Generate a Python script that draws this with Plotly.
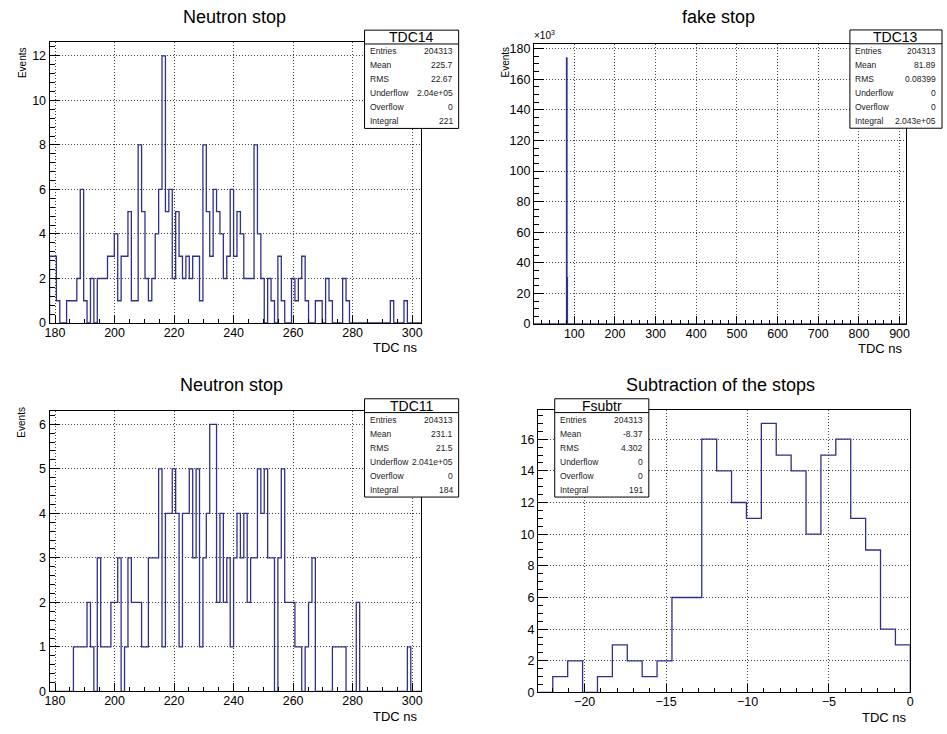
import plotly.graph_objects as go

W, H = 947, 734
FONT = "Liberation Sans, Arial, Helvetica, sans-serif"
LINE_COLOR = "#30308a"

# ---- TDC histograms: 800 bins of 1.145 ns, lower edge 0.69 ns ----
TDC_BIN_WIDTH = 1.145
TDC_FIRST_EDGE = 0.69
TDC_VIEW_FIRST_BIN = 155      # first bin shown in the zoomed neutron panels
TDC_VIEW_LAST_BIN = 263       # last bin shown (inclusive)

# TDC14 counts, bins 155..263
tdc14_counts = [
    3, 3, 1, 0, 0, 1, 1, 1, 2, 6,
    1, 0, 2, 0, 2, 2, 2, 3, 3, 4,
    1, 3, 3, 5, 1, 1, 8, 5, 2, 1,
    2, 4, 6, 12, 5, 6, 2, 5, 3, 2,
    3, 2, 3, 3, 1, 8, 5, 3, 6, 5,
    4, 2, 3, 6, 3, 5, 4, 2, 2, 2,
    8, 4, 2, 0, 2, 1, 0, 3, 1, 0,
    0, 2, 1, 2, 3, 1, 0, 0, 1, 1,
    0, 2, 1, 0, 0, 0, 2, 1, 0, 0,
    0, 0, 0, 0, 0, 0, 0, 0, 0, 0,
    1, 0, 0, 0, 1, 0, 0, 0, 0,
]

# TDC11 counts, bins 155..263
tdc11_counts = [
    0, 0, 0, 0, 0, 0, 0, 1, 1, 1,
    1, 2, 1, 0, 3, 1, 1, 1, 2, 2,
    3, 0, 1, 3, 2, 2, 2, 1, 1, 3,
    3, 3, 5, 1, 4, 4, 5, 4, 1, 4,
    4, 5, 3, 5, 1, 3, 4, 6, 6, 2,
    4, 2, 3, 1, 3, 4, 3, 4, 2, 3,
    3, 5, 4, 5, 3, 3, 0, 3, 5, 2,
    2, 2, 1, 1, 0, 1, 2, 3, 0, 0,
    0, 0, 0, 1, 1, 1, 1, 0, 0, 0,
    2, 0, 0, 0, 0, 0, 0, 0, 0, 0,
    0, 0, 0, 0, 0, 1, 0, 0, 0,
]

# TDC13 ("fake stop"): only two populated bins over the full 800-bin range
TDC_NBINS = 800
fake_bins = [70, 71]
fake_counts = [174000, 30313]

# Fsubtr: 25 bins of 0.915 ns starting at -22.875 ns
FSUB_LOW = -22.875
FSUB_WIDTH = 0.915
fsub_counts = [0, 1, 2, 0, 1, 3, 2, 1, 2, 6, 6, 16, 14, 12, 11, 17, 15, 14, 10,
               15, 16, 11, 9, 4, 3]

# ---- statistics boxes ----
stat_labels = ["Entries", "Mean", "RMS", "Underflow", "Overflow", "Integral"]
tdc14_stats = ["204313", "225.7", "22.67", "2.04e+05", "0", "221"]
tdc13_stats = ["204313", "81.89", "0.08399", "0", "0", "2.043e+05"]
tdc11_stats = ["204313", "231.1", "21.5", "2.041e+05", "0", "184"]
fsub_stats = ["204313", "-8.37", "4.302", "0", "0", "191"]

titles = ["Neutron stop", "fake stop", "Neutron stop", "Subtraction of the stops"]


def px(x):
    return x / W


def py(y):
    return 1 - y / H


def step_xy(edges, counts):
    xs = [edges[0]] + list(edges[:-1]) + [edges[-1], edges[-1]]
    ys = [0] + list(counts) + [counts[-1], 0]
    return xs, ys


def tdc_edges(first_bin, n):
    return [TDC_FIRST_EDGE + TDC_BIN_WIDTH * (first_bin + i) for i in range(n + 1)]


fig = go.Figure()

# panel frames in pixels: (x0, x1, ytop, ybottom)
frames = {
    1: (45, 420, 41, 325),
    2: (534, 910, 43, 326),
    3: (45, 420, 414, 698),
    4: (538, 914, 413, 699),
}


def hist_trace(xs, ys, n):
    suffix = "" if n == 1 else str(n)
    return go.Scatter(x=xs, y=ys, mode="lines",
                      line=dict(color=LINE_COLOR, width=1.3, shape="hv"),
                      xaxis="x" + suffix, yaxis="y" + suffix,
                      showlegend=False, hoverinfo="skip")


# --- data traces ---
e14 = tdc_edges(TDC_VIEW_FIRST_BIN, len(tdc14_counts))
fig.add_trace(hist_trace(*step_xy(e14, tdc14_counts), 1))

fake_full = [0] * TDC_NBINS
for b, c in zip(fake_bins, fake_counts):
    fake_full[b] = c
e13 = tdc_edges(0, TDC_NBINS)
fig.add_trace(hist_trace(*step_xy(e13, [c / 1000 for c in fake_full]), 2))

e11 = tdc_edges(TDC_VIEW_FIRST_BIN, len(tdc11_counts))
fig.add_trace(hist_trace(*step_xy(e11, tdc11_counts), 3))

ef = [FSUB_LOW + FSUB_WIDTH * i for i in range(len(fsub_counts) + 1)]
fig.add_trace(hist_trace(*step_xy(ef, fsub_counts), 4))


def axis(domain, rng, dtick, minor_dtick, ticklen, is_x, tick0=0):
    a = dict(
        domain=domain, range=rng, dtick=dtick, tick0=tick0, ticks="inside", ticklen=ticklen,
        tickwidth=1, tickcolor="black",
        minor=dict(dtick=minor_dtick, tick0=tick0, ticks="inside", ticklen=ticklen / 2,
                   tickcolor="black", tickwidth=1, showgrid=False),
        showline=True, linecolor="black", linewidth=1, mirror=True,
        showgrid=True, gridcolor="#444444", griddash="1px,2px", gridwidth=1,
        zeroline=False, tickfont=dict(family=FONT, size=12.5, color="black"),
        fixedrange=True,
    )
    if is_x:
        a["ticklabelstandoff"] = -2
    return a


lo = TDC_FIRST_EDGE + TDC_BIN_WIDTH * TDC_VIEW_FIRST_BIN
hi = TDC_FIRST_EDGE + TDC_BIN_WIDTH * (TDC_VIEW_LAST_BIN + 1)

layout_axes = {}
specs = {
    1: dict(xr=[lo, hi], xd=20, xm=5, yr=[0, 12.6], yd=2, ym=0.4),
    2: dict(xr=[TDC_FIRST_EDGE, TDC_FIRST_EDGE + TDC_BIN_WIDTH * TDC_NBINS], xd=100, xm=20,
            yr=[0, 182.7], yd=20, ym=5),
    3: dict(xr=[lo, hi], xd=20, xm=5, yr=[0, 6.3], yd=1, ym=0.2),
    4: dict(xr=[FSUB_LOW, 0], xd=5, xm=1, yr=[0, 17.85], yd=2, ym=0.5),
}
for i, s in specs.items():
    x0, x1, yt, yb = frames[i]
    xa = axis([px(x0), px(x1)], s["xr"], s["xd"], s["xm"], 8, True)
    ya = axis([py(yb), py(yt)], s["yr"], s["yd"], s["ym"], 10, False)
    suffix = "" if i == 1 else str(i)
    xa["anchor"] = "y" + suffix
    ya["anchor"] = "x" + suffix
    layout_axes["xaxis" + suffix] = xa
    layout_axes["yaxis" + suffix] = ya

fig.update_layout(
    width=W, height=H, margin=dict(l=0, r=0, t=0, b=0),
    paper_bgcolor="white", plot_bgcolor="white", showlegend=False,
    **layout_axes,
)

annotations = []
shapes = []


def text(x, y, s, size, xanchor="center", angle=0, color="black"):
    annotations.append(dict(x=px(x), y=py(y), xref="paper", yref="paper", text=s, showarrow=False,
                            xanchor=xanchor, yanchor="middle", textangle=angle,
                            font=dict(family=FONT, size=size, color=color)))


# titles
text(232, 15, titles[0], 18)
text(720, 15, titles[1], 18)
text(229, 388, titles[2], 18)
text(722, 388, titles[3], 18)

# axis titles
for i in (1, 2, 3, 4):
    x0, x1, yt, yb = frames[i]
    text(x1 - 1, yb + 25, "TDC ns", 13, xanchor="right")
text(17, 61, "Events", 10, angle=-90)
text(505, 61, "Events", 10, angle=-90)
text(17, 425, "Events", 10, angle=-90)
text(545, 33, "×10<sup>3</sup>", 10)


def stat_box(x0, x1, top, name, values):
    bottom = top + 99.5
    shapes.append(dict(type="rect", xref="paper", yref="paper", x0=px(x0), x1=px(x1),
                       y0=py(bottom), y1=py(top), line=dict(color="black", width=1),
                       fillcolor="white", layer="above"))
    shapes.append(dict(type="line", xref="paper", yref="paper", x0=px(x0), x1=px(x1),
                       y0=py(top + 14), y1=py(top + 14), line=dict(color="black", width=1),
                       layer="above"))
    text((x0 + x1) / 2, top + 7.3, name, 14)
    for k, (lab, val) in enumerate(zip(stat_labels, values)):
        yy = top + 21.3 + 14.2 * k
        text(x0 + 3.5, yy, lab, 8.5, xanchor="left", color="#222222")
        text(x1 - 4, yy, val, 8.5, xanchor="right", color="#222222")


stat_box(363, 458, 28.5, "TDC14", tdc14_stats)
stat_box(853, 946, 28.3, "TDC13", tdc13_stats)
stat_box(363, 458, 401.7, "TDC11", tdc11_stats)
stat_box(555, 650, 401.7, "Fsubtr", fsub_stats)

fig.update_layout(annotations=annotations, shapes=shapes)
fig.write_html("out.html")
